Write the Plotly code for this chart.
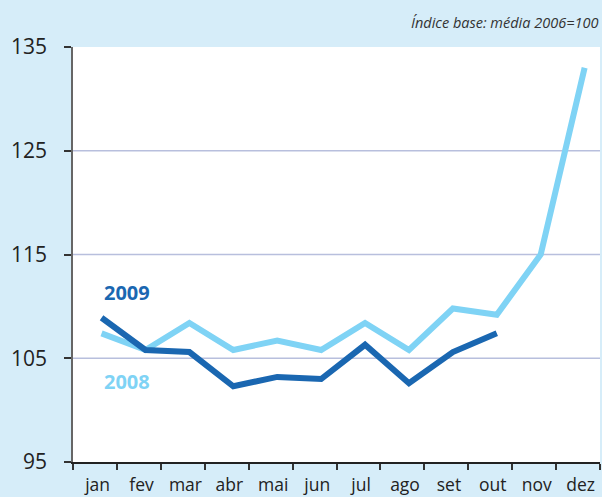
import plotly.graph_objects as go

months = ["jan", "fev", "mar", "abr", "mai", "jun", "jul", "ago", "set", "out", "nov", "dez"]
y2008 = [107.4, 105.8, 108.4, 105.8, 106.7, 105.8, 108.4, 105.8, 109.8, 109.2, 115.0, 133.0]
y2009 = [108.9, 105.8, 105.6, 102.3, 103.2, 103.0, 106.3, 102.6, 105.6, 107.4]
y_ticks = [95, 105, 115, 125, 135]
grid_values = [105, 115, 125]

BG = "#d6edf9"
LIGHT = "#7fd3f5"
DARK = "#1a67b1"
FONT = "Open Sans"

point_shift = 0.15   # points sit slightly right of the category centre
label_shift = 0.06

idx = list(range(len(months)))

fig = go.Figure()
fig.add_trace(go.Scatter(x=[i + point_shift for i in idx], y=y2008, mode="lines",
                         line=dict(color=LIGHT, width=6), showlegend=False))
fig.add_trace(go.Scatter(x=[i + point_shift for i in idx[:len(y2009)]], y=y2009, mode="lines",
                         line=dict(color=DARK, width=6), showlegend=False))

for g in grid_values:
    fig.add_shape(type="line", xref="paper", x0=0, x1=1, yref="y", y0=g, y1=g,
                  line=dict(color="#b8bfdd", width=1.5), layer="below")

boundaries = [i - 0.5 for i in range(len(months) + 1)]

fig.update_layout(
    width=602, height=497,
    paper_bgcolor=BG, plot_bgcolor="white",
    margin=dict(l=73, r=2, t=47, b=35),
    font=dict(family=FONT, color="#222222"),
    xaxis=dict(range=[-0.5, len(months) - 0.5], tickmode="array", tickvals=boundaries,
               ticktext=["" for _ in boundaries], ticks="outside", ticklen=6,
               tickcolor="#333333", tickwidth=1.5, showgrid=False, zeroline=False,
               showline=True, linecolor="#222222", linewidth=1.5, automargin=False),
    xaxis2=dict(range=[-0.5, len(months) - 0.5], overlaying="x", side="bottom",
                tickmode="array", tickvals=[i + label_shift for i in idx], ticktext=months,
                ticks="", showgrid=False, zeroline=False, showline=False,
                tickfont=dict(size=17.5, color="#222222"), ticklabelstandoff=10,
                automargin=False),
    yaxis=dict(range=[95, 135], tickmode="array", tickvals=y_ticks,
               ticks="outside", ticklen=7, tickcolor="#333333", tickwidth=1.5,
               showgrid=False, zeroline=False, showline=True, linecolor="#666666",
               linewidth=1.5, tickfont=dict(size=21, color="#222222"),
               ticklabelstandoff=13, automargin=False),
    annotations=[
        dict(text="<i>Índice base: média 2006=100</i>", xref="paper", yref="paper",
             x=1.0, y=1.0, yshift=25, xanchor="right", yanchor="middle",
             showarrow=False, font=dict(size=14.5, color="#333333")),
        dict(text="<b>2009</b>", xref="x", yref="y", x=0.72, y=111.3,
             xanchor="center", yanchor="middle", showarrow=False,
             font=dict(size=20, color=DARK)),
        dict(text="<b>2008</b>", xref="x", yref="y", x=0.72, y=102.8,
             xanchor="center", yanchor="middle", showarrow=False,
             font=dict(size=20, color=LIGHT)),
    ],
)
# invisible trace to activate the label axis
fig.add_trace(go.Scatter(x=[0], y=[95], xaxis="x2", mode="markers",
                         marker=dict(opacity=0), showlegend=False, hoverinfo="skip"))

fig.write_html("out.html", config={"displayModeBar": False},
               post_script="document.body.style.margin='0';document.body.style.overflow='hidden';document.body.style.background='" + BG + "';")
